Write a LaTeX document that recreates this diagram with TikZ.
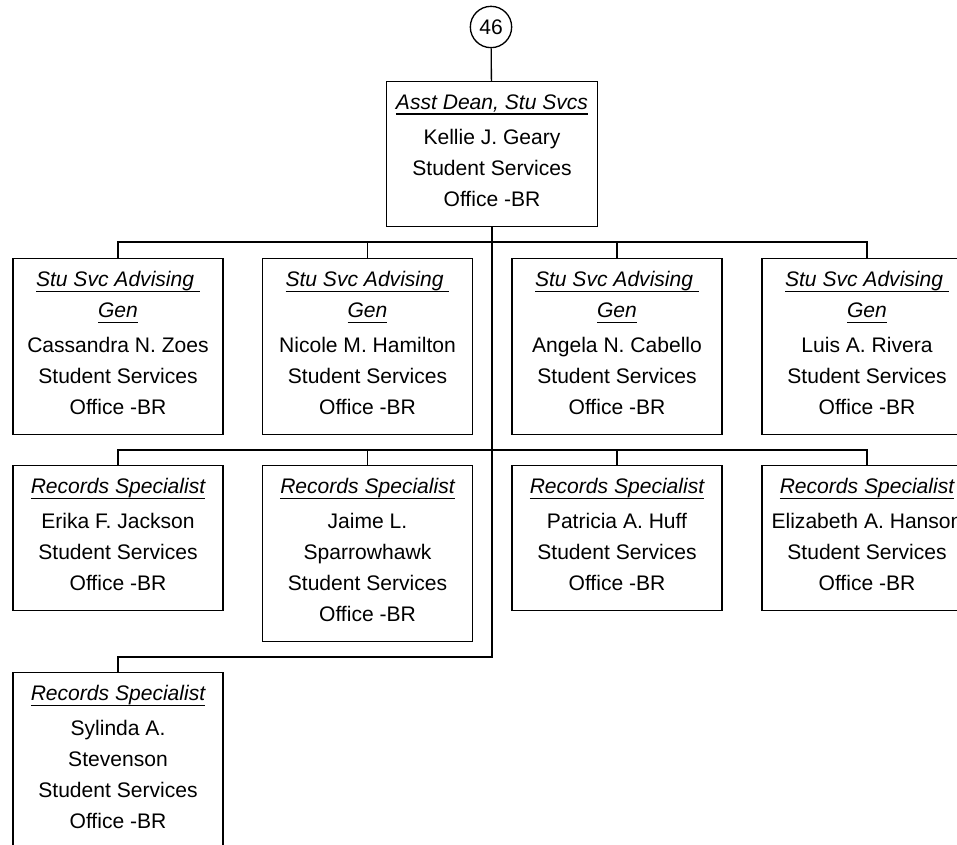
\documentclass[tikz,border=0pt]{standalone}
\usepackage{fontspec}
\setmainfont{Liberation Sans}
\usetikzlibrary{positioning}
\newcommand\ttl[1]{\leavevmode\setbox0\hbox{\itshape #1}\rlap{\rule[-4.3pt]{\wd0}{1.1pt}}\box0}

\begin{document}
\begin{tikzpicture}[
    x=0.75pt, y=-0.75pt,
    job/.style={draw, line width=1.1pt, anchor=north, align=center, inner sep=2pt,
        minimum width=157.5pt, minimum height=108.75pt, font=\fontsize{15.8}{23.25}\selectfont,
        execute at end node=\rule[-6pt]{0pt}{6pt}},
    tall/.style={job, minimum height=132pt},
    pg/.style={draw, circle, line width=1pt, minimum size=31pt, inner sep=0pt, font=\fontsize{15.8}{19}\selectfont},
    link/.style={line width=1pt}
]
\useasboundingbox (0,0) rectangle (957,845);
\clip (0,0) rectangle (957,845);

\node[pg] (page) at (491,27) {46};
\node[job, minimum width=158.25pt] (dean) at (492,81) {\ttl{Asst Dean, Stu Svcs}\\[3pt]Kellie J. Geary\\Student Services\\Office -BR};

\node[tall] (adv1) at (118,258) {\ttl{Stu Svc Advising }\\\ttl{Gen}\\[3pt]Cassandra N. Zoes\\Student Services\\Office -BR};
\node[tall] (adv2) at (367.5,258) {\ttl{Stu Svc Advising }\\\ttl{Gen}\\[3pt]Nicole M. Hamilton\\Student Services\\Office -BR};
\node[tall] (adv3) at (617,258) {\ttl{Stu Svc Advising }\\\ttl{Gen}\\[3pt]Angela N. Cabello\\Student Services\\Office -BR};
\node[tall] (adv4) at (867,258) {\ttl{Stu Svc Advising }\\\ttl{Gen}\\[3pt]Luis A. Rivera\\Student Services\\Office -BR};

\node[job] (rec1) at (118,465) {\ttl{Records Specialist}\\[3pt]Erika F. Jackson\\Student Services\\Office -BR};
\node[tall] (rec2) at (367.5,465) {\ttl{Records Specialist}\\[3pt]Jaime L.\\Sparrowhawk\\Student Services\\Office -BR};
\node[job] (rec3) at (617,465) {\ttl{Records Specialist}\\[3pt]Patricia A. Huff\\Student Services\\Office -BR};
\node[job] (rec4) at (867,465) {\ttl{Records Specialist}\\[3pt]Elizabeth A. Hanson\\Student Services\\Office -BR};

\node[tall] (rec5) at (118,672) {\ttl{Records Specialist}\\[3pt]Sylinda A.\\Stevenson\\Student Services\\Office -BR};

% trunk and buses
\coordinate (j1) at (492,242);
\coordinate (j2) at (492,450);
\coordinate (j3) at (492,657);

\draw[link] (page) -- (dean);
\draw[link] (dean.south) -- (j3) -| (rec5.north);
\foreach \i in {1,...,4}
    \draw[link] (j1) -| (adv\i.north);
\foreach \i in {1,...,4}
    \draw[link] (j2) -| (rec\i.north);
\end{tikzpicture}
\end{document}
